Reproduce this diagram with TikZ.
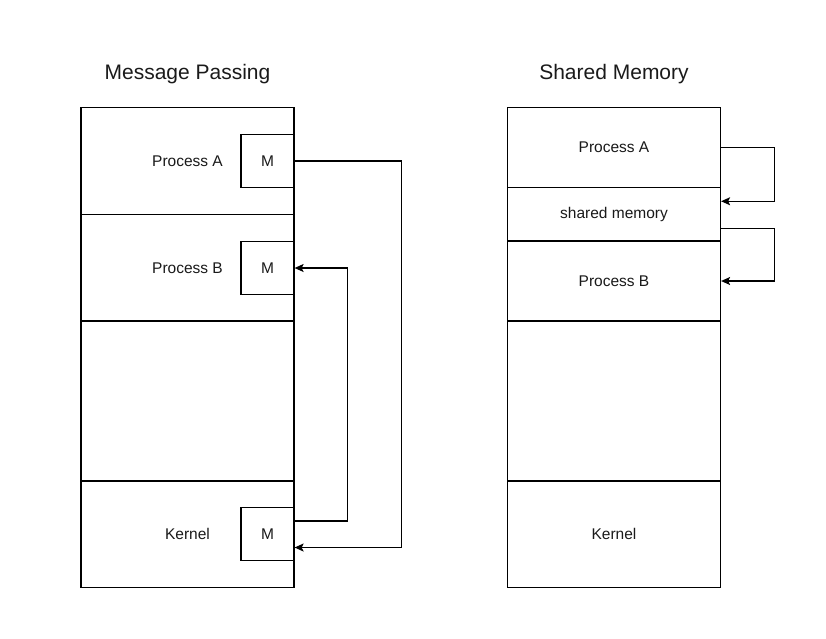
\documentclass[tikz,border=0pt]{standalone}
\usepackage{fontspec}
\setmainfont{Liberation Sans}
\usetikzlibrary{arrows.meta,calc}
\definecolor{memInk}{HTML}{000000}
\definecolor{memText}{HTML}{1A1A1A}
\tikzset{
  every picture/.style={font=\fontsize{15.5}{18}\selectfont, text=memText},
  mem title/.style={font=\fontsize{21}{24}\selectfont},
  mem sect/.style={draw=memInk, line width=1.2pt, fill=white, align=center,
    minimum width=213pt, inner sep=0pt},
  mem msg/.style={draw=memInk, line width=1.2pt, fill=white,
    minimum width=53pt, minimum height=53pt, inner sep=0pt},
  mem arrow/.style={-{Stealth[length=9pt,width=8pt,inset=2pt]},
    draw=memInk, line width=1.2pt, line cap=butt}
}
\begin{document}
\begin{tikzpicture}[x=1pt,y=-1pt]
  \useasboundingbox (0,0) rectangle (826,638);
  % message passing
  \node[mem title] (titleMP) at (187.5,74) {Message Passing};
  \node[mem sect, minimum height=107pt] (secA) at (187.5,161) {Process A};
  \node[mem sect, minimum height=106.5pt] (secB) at (187.5,267.75) {Process B};
  \node[mem sect, minimum height=160pt] (secE) at (187.5,401) {};
  \node[mem sect, minimum height=106.5pt] (secK) at (187.5,534.25) {Kernel};
  \node[mem msg] (mA) at (267.5,161) {M};
  \node[mem msg] (mB) at (267.5,268) {M};
  \node[mem msg] (mK) at (267.5,534) {M};
  \draw[mem arrow] (mA.east) -- ++(107,0) |- ([yshift=-13.5pt]mK.east);
  \draw[mem arrow] ([yshift=13pt]mK.east) -- ++(53,0) |- (mB.east);
  % shared memory
  \node[mem title] (titleSM) at (614,74) {Shared Memory};
  \node[mem sect, minimum height=80pt] (rA) at (614,147.5) {Process A};
  \node[mem sect, minimum height=53.5pt] (rS) at (614,214.25) {shared memory};
  \node[mem sect, minimum height=80pt] (rB) at (614,281) {Process B};
  \node[mem sect, minimum height=160pt] (rE) at (614,401) {};
  \node[mem sect, minimum height=106.5pt] (rK) at (614,534.25) {Kernel};
  \draw[mem arrow] (rA.east) -- ++(53.5,0) |- ([yshift=13pt]rS.east);
  \draw[mem arrow] ([yshift=-14pt]rS.east) -- ++(53.5,0) |- (rB.east);
\end{tikzpicture}
\end{document}
